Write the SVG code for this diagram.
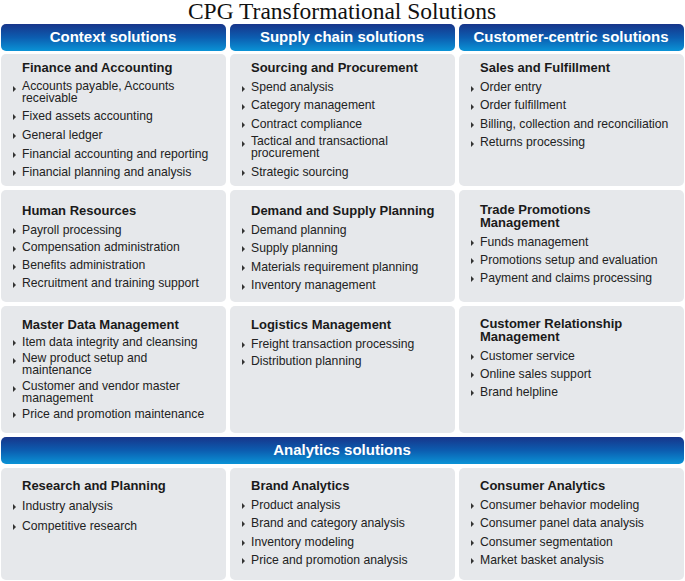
<svg xmlns="http://www.w3.org/2000/svg" width="685" height="581" viewBox="0 0 685 581">
<defs>
<linearGradient id="hg" x1="0" y1="0" x2="0" y2="1"><stop offset="0" stop-color="#17358a"/><stop offset="0.5" stop-color="#0c5db0"/><stop offset="1" stop-color="#0a93d6"/></linearGradient>
<style>
.h{fill:url(#hg)}
.c{fill:#e6e8eb}
.ht{font-family:"Liberation Sans",Arial,sans-serif;font-weight:bold;font-size:15px;fill:#fff;text-anchor:middle}
.t{font-family:"Liberation Sans",Arial,sans-serif;font-weight:bold;font-size:13px;fill:#1a1a1a}
.i{font-family:"Liberation Sans",Arial,sans-serif;font-size:12.2px;fill:#222}
</style>
<path id="bl" d="M0,-3 L3,0 L0,3 Z" fill="#333"/>
</defs>
<rect width="685" height="581" fill="#fff"/>
<text x="342" y="19" text-anchor="middle" font-family="Liberation Serif,serif" font-size="23.5" fill="#111">CPG Transformational Solutions</text>
<g id="headers">
<rect class="h" x="1" y="24" width="225" height="27" rx="5"/>
<rect class="h" x="230" y="24" width="225" height="27" rx="5"/>
<rect class="h" x="459" y="24" width="225" height="27" rx="5"/>
<text class="ht" x="113" y="42">Context solutions</text>
<text class="ht" x="342" y="42">Supply chain solutions</text>
<text class="ht" x="571" y="42">Customer-centric solutions</text>
<rect class="h" x="1" y="437" width="683" height="27" rx="5"/>
<text class="ht" x="342" y="455">Analytics solutions</text>
</g>
<g id="fa"><rect class="c" x="1" y="54" width="225" height="132" rx="5"/>
<text class="t" x="22" y="72">Finance and Accounting</text>
<use href="#bl" x="13" y="89"/><text class="i" x="22" y="90">Accounts payable, Accounts</text><text class="i" x="22" y="102">receivable</text>
<use href="#bl" x="13" y="117"/><text class="i" x="22" y="120">Fixed assets accounting</text>
<use href="#bl" x="13" y="136"/><text class="i" x="22" y="139">General ledger</text>
<use href="#bl" x="13" y="155"/><text class="i" x="22" y="158">Financial accounting and reporting</text>
<use href="#bl" x="13" y="173"/><text class="i" x="22" y="176">Financial planning and analysis</text></g>
<g id="sp"><rect class="c" x="230" y="54" width="225" height="132" rx="5"/>
<text class="t" x="251" y="72">Sourcing and Procurement</text>
<use href="#bl" x="242" y="89"/><text class="i" x="251" y="91">Spend analysis</text>
<use href="#bl" x="242" y="107"/><text class="i" x="251" y="109">Category management</text>
<use href="#bl" x="242" y="125"/><text class="i" x="251" y="128">Contract compliance</text>
<use href="#bl" x="242" y="144"/><text class="i" x="251" y="145">Tactical and transactional</text><text class="i" x="251" y="157">procurement</text>
<use href="#bl" x="242" y="173"/><text class="i" x="251" y="176">Strategic sourcing</text></g>
<g id="sf"><rect class="c" x="459" y="54" width="225" height="132" rx="5"/>
<text class="t" x="480" y="72">Sales and Fulfillment</text>
<use href="#bl" x="471" y="89"/><text class="i" x="480" y="91">Order entry</text>
<use href="#bl" x="471" y="107"/><text class="i" x="480" y="109">Order fulfillment</text>
<use href="#bl" x="471" y="125"/><text class="i" x="480" y="128">Billing, collection and reconciliation</text>
<use href="#bl" x="471" y="144"/><text class="i" x="480" y="146">Returns processing</text></g>
<g id="hr"><rect class="c" x="1" y="190" width="225" height="112" rx="5"/>
<text class="t" x="22" y="215">Human Resources</text>
<use href="#bl" x="13" y="231"/><text class="i" x="22" y="234">Payroll processing</text>
<use href="#bl" x="13" y="249"/><text class="i" x="22" y="251">Compensation administration</text>
<use href="#bl" x="13" y="267"/><text class="i" x="22" y="269">Benefits administration</text>
<use href="#bl" x="13" y="285"/><text class="i" x="22" y="287">Recruitment and training support</text></g>
<g id="ds"><rect class="c" x="230" y="190" width="225" height="112" rx="5"/>
<text class="t" x="251" y="215">Demand and Supply Planning</text>
<use href="#bl" x="242" y="231"/><text class="i" x="251" y="234">Demand planning</text>
<use href="#bl" x="242" y="249"/><text class="i" x="251" y="252">Supply planning</text>
<use href="#bl" x="242" y="268"/><text class="i" x="251" y="271">Materials requirement planning</text>
<use href="#bl" x="242" y="287"/><text class="i" x="251" y="289">Inventory management</text></g>
<g id="tp"><rect class="c" x="459" y="190" width="225" height="112" rx="5"/>
<text class="t" x="480" y="214">Trade Promotions</text><text class="t" x="480" y="227">Management</text>
<use href="#bl" x="471" y="243"/><text class="i" x="480" y="246">Funds management</text>
<use href="#bl" x="471" y="261"/><text class="i" x="480" y="264">Promotions setup and evaluation</text>
<use href="#bl" x="471" y="279"/><text class="i" x="480" y="282">Payment and claims processing</text></g>
<g id="md"><rect class="c" x="1" y="306" width="225" height="127" rx="5"/>
<text class="t" x="22" y="329">Master Data Management</text>
<use href="#bl" x="13" y="343"/><text class="i" x="22" y="346">Item data integrity and cleansing</text>
<use href="#bl" x="13" y="361"/><text class="i" x="22" y="362">New product setup and</text><text class="i" x="22" y="374">maintenance</text>
<use href="#bl" x="13" y="389"/><text class="i" x="22" y="390">Customer and vendor master</text><text class="i" x="22" y="402">management</text>
<use href="#bl" x="13" y="415"/><text class="i" x="22" y="418">Price and promotion maintenance</text></g>
<g id="lm"><rect class="c" x="230" y="306" width="225" height="127" rx="5"/>
<text class="t" x="251" y="329">Logistics Management</text>
<use href="#bl" x="242" y="345"/><text class="i" x="251" y="348">Freight transaction processing</text>
<use href="#bl" x="242" y="362"/><text class="i" x="251" y="365">Distribution planning</text></g>
<g id="crm"><rect class="c" x="459" y="306" width="225" height="127" rx="5"/>
<text class="t" x="480" y="328">Customer Relationship</text><text class="t" x="480" y="341">Management</text>
<use href="#bl" x="471" y="357"/><text class="i" x="480" y="360">Customer service</text>
<use href="#bl" x="471" y="375"/><text class="i" x="480" y="378">Online sales support</text>
<use href="#bl" x="471" y="393"/><text class="i" x="480" y="396">Brand helpline</text></g>
<g id="rp"><rect class="c" x="1" y="468" width="225" height="112" rx="5"/>
<text class="t" x="22" y="490">Research and Planning</text>
<use href="#bl" x="13" y="507"/><text class="i" x="22" y="510">Industry analysis</text>
<use href="#bl" x="13" y="527"/><text class="i" x="22" y="530">Competitive research</text></g>
<g id="ba"><rect class="c" x="230" y="468" width="225" height="112" rx="5"/>
<text class="t" x="251" y="490">Brand Analytics</text>
<use href="#bl" x="242" y="506"/><text class="i" x="251" y="509">Product analysis</text>
<use href="#bl" x="242" y="524"/><text class="i" x="251" y="527">Brand and category analysis</text>
<use href="#bl" x="242" y="543"/><text class="i" x="251" y="546">Inventory modeling</text>
<use href="#bl" x="242" y="561"/><text class="i" x="251" y="564">Price and promotion analysis</text></g>
<g id="ca"><rect class="c" x="459" y="468" width="225" height="112" rx="5"/>
<text class="t" x="480" y="490">Consumer Analytics</text>
<use href="#bl" x="471" y="506"/><text class="i" x="480" y="509">Consumer behavior modeling</text>
<use href="#bl" x="471" y="524"/><text class="i" x="480" y="527">Consumer panel data analysis</text>
<use href="#bl" x="471" y="543"/><text class="i" x="480" y="546">Consumer segmentation</text>
<use href="#bl" x="471" y="561"/><text class="i" x="480" y="564">Market basket analysis</text></g>
<g id="connectors"/>
</svg>
